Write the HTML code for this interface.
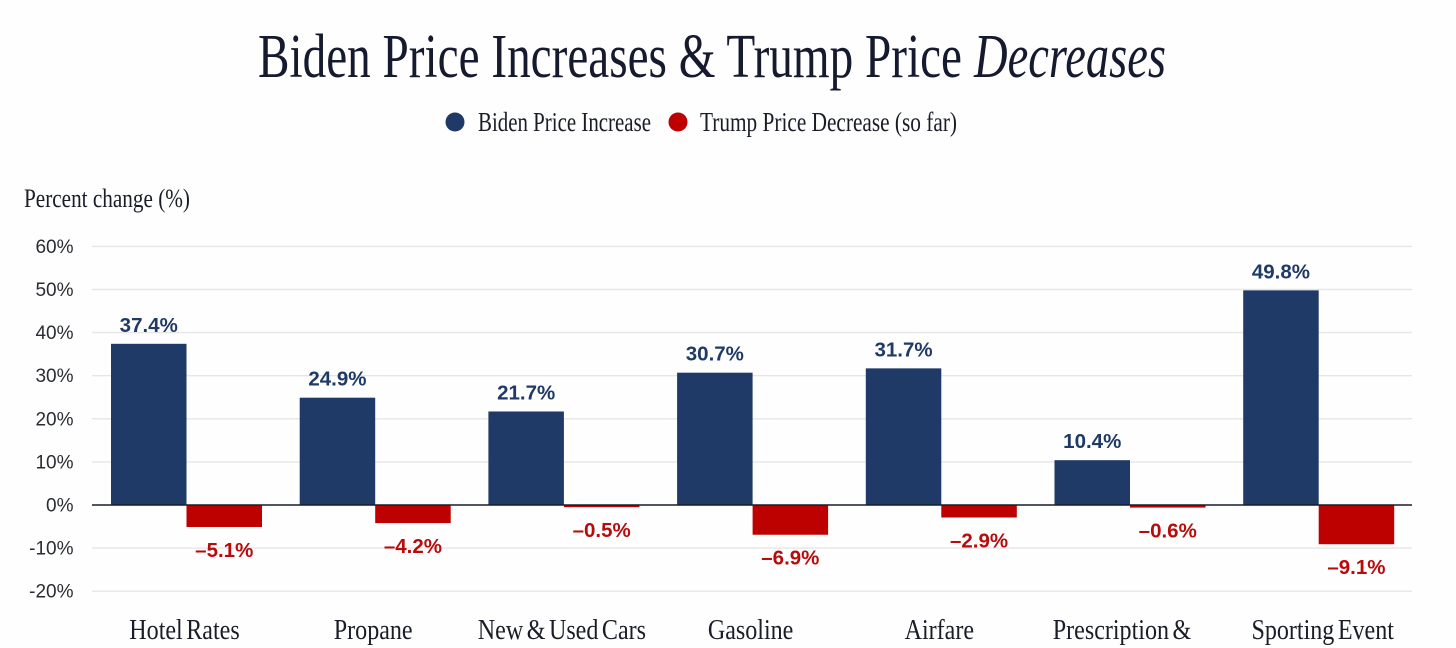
<!DOCTYPE html>
<html lang="en">
<head>
<meta charset="utf-8">
<title>Biden Price Increases &amp; Trump Price Decreases</title>
<style>
html,body{margin:0;padding:0;background:#fefefe;width:1456px;height:648px;overflow:hidden}
svg{display:block}
.serif{font-family:"Liberation Serif",serif}
.sans{font-family:"Liberation Sans",sans-serif}
</style>
</head>
<body>
<svg id="chart" width="1456" height="648" viewBox="0 0 1456 648" xmlns="http://www.w3.org/2000/svg">
  <text class="serif" x="258" y="77" font-size="62" fill="#151a2e" textLength="704" lengthAdjust="spacingAndGlyphs">Biden Price Increases &amp; Trump Price</text>
  <text class="serif" x="974" y="77" font-size="62" font-style="italic" fill="#151a2e" textLength="192" lengthAdjust="spacingAndGlyphs">Decreases</text>

  <circle cx="455" cy="122" r="9.5" fill="#1f3a66"/>
  <text class="serif" x="478" y="131" font-size="27" fill="#1a1d28" textLength="173" lengthAdjust="spacingAndGlyphs">Biden Price Increase</text>
  <circle cx="678" cy="122" r="9.5" fill="#bd0000"/>
  <text class="serif" x="700" y="131" font-size="27" fill="#1a1d28" textLength="257" lengthAdjust="spacingAndGlyphs">Trump Price Decrease (so far)</text>

  <text class="serif" x="24" y="207" font-size="26" fill="#1a1d28" textLength="166" lengthAdjust="spacingAndGlyphs">Percent change (%)</text>
  <g id="grid"></g>
  <g id="ticks"></g>
  <g id="bars"></g>
  <g id="values"></g>
  <line x1="92" x2="1412" y1="505" y2="505" stroke="#161d2c" stroke-width="1.6"/>
  <g id="cats"></g>
</svg>
<script>
const categories = ["Hotel Rates", "Propane", "New & Used Cars", "Gasoline", "Airfare", "Prescription &", "Sporting Event"];
const bidenValues = [37.4, 24.9, 21.7, 30.7, 31.7, 10.4, 49.8];
const trumpValues = [-5.1, -4.2, -0.5, -6.9, -2.9, -0.6, -9.1];
const tickValues = [60, 50, 40, 30, 20, 10, 0, -10, -20];

const NS = "http://www.w3.org/2000/svg";
const BAR_W = 75.5;
function yScale(v) { return 505 - v * 4.31; }
function groupCenter(i) { return 186.5 + i * 188.7; }
function make(tag, attrs, parent, txt) {
  const el = document.createElementNS(NS, tag);
  for (const k in attrs) el.setAttribute(k, attrs[k]);
  if (txt !== undefined) el.textContent = txt;
  parent.appendChild(el);
  return el;
}
function fmt(v) { return (v < 0 ? "\u2013" : "") + Math.abs(v).toFixed(1) + "%"; }
function catShift(name) {
  if (name === "Prescription &") return -8;
  if (name === "Sporting Event") return 4;
  return -2;
}

const grid = document.getElementById("grid");
const ticks = document.getElementById("ticks");
const bars = document.getElementById("bars");
const values = document.getElementById("values");
const cats = document.getElementById("cats");

tickValues.forEach(function (t) {
  if (t !== 0) {
    const line = make("line", { x1: 92, x2: 1412, y1: yScale(t), y2: yScale(t), stroke: "#e6e6e6", "stroke-width": 1.4 }, grid);
    
    
  }
  const label = make("text", { x: 73.5, y: yScale(t) + 6.5, "text-anchor": "end", "font-size": 19, fill: "#2a2c33", "class": "sans" }, ticks, t + "%");
  
  
});

categories.forEach(function (name, i) {
  const c = groupCenter(i);
  const bv = bidenValues[i];
  const tv = trumpValues[i];

  const blue = make("rect", { x: c - BAR_W, y: yScale(bv), width: BAR_W, height: yScale(0) - yScale(bv), fill: "#1f3a66" }, bars);
  
  

  const red = make("rect", { x: c, y: yScale(0), width: BAR_W, height: yScale(tv) - yScale(0), fill: "#bd0000" }, bars);
  
  

  const blueLabel = make("text", { x: c - BAR_W / 2, y: yScale(bv) - 12, "text-anchor": "middle", "font-size": 20.5, "font-weight": 700, fill: "#1f3a66", "class": "sans" }, values, fmt(bv));
  
  

  const redLabel = make("text", { x: c + BAR_W / 2, y: yScale(tv) + 30, "text-anchor": "middle", "font-size": 20.5, "font-weight": 700, fill: "#b80b0b", "class": "sans" }, values, fmt(tv));
  
  

  const cx = c + catShift(name);
  const cat = make("text", { "text-anchor": "middle", "font-size": 29, "word-spacing": -3, fill: "#1a1d28", "class": "serif", transform: "translate(" + cx + " 639) scale(0.83 1)" }, cats, name);
  
  
});
</script>
</body>
</html>
